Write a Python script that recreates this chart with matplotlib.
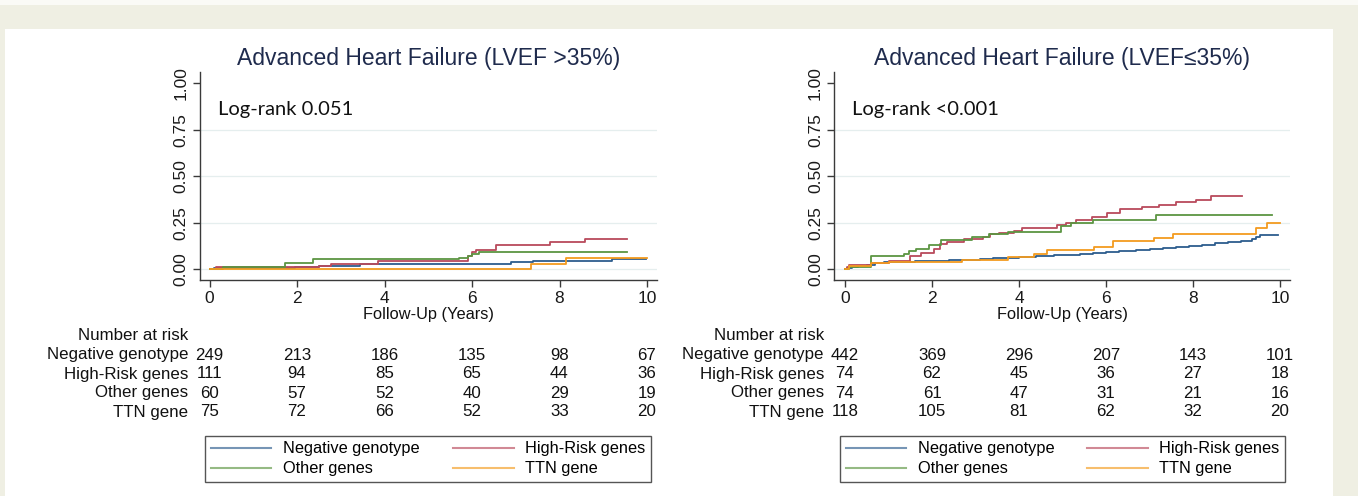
import matplotlib
matplotlib.use("Agg")
import matplotlib.pyplot as plt
from matplotlib.lines import Line2D
from matplotlib.patches import Rectangle

# colours (Stata-like)
BLUE = '#2d5d8e'
RED = '#b94a5c'
GREEN = '#5c9542'
ORANGE = '#f39b1f'
NAVY = '#1f2b4d'

groups = ['Negative genotype', 'High-Risk genes', 'Other genes', 'TTN gene']
risk_times = [0, 2, 4, 6, 8, 10]

# ---- left panel: LVEF >35% ----
left_title = 'Advanced Heart Failure (LVEF >35%)'
left_logrank = 'Log-rank 0.051'
left_neg_t = [0, 0.1, 1.95, 2.5, 3.45, 6.9, 7.4, 9.2, 9.98]
left_neg_v = [0, 0.005, 0.01, 0.018, 0.027, 0.036, 0.045, 0.054, 0.054]
left_hr_t = [0, 0.15, 2.5, 2.77, 3.85, 5.9, 6.0, 6.1, 6.55, 7.78, 8.58, 9.55]
left_hr_v = [0, 0.009, 0.018, 0.027, 0.045, 0.072, 0.09, 0.10, 0.127, 0.145, 0.161, 0.161]
left_oth_t = [0, 0.3, 1.72, 2.36, 5.71, 5.9, 6.0, 6.15, 9.55]
left_oth_v = [0, 0.012, 0.031, 0.052, 0.062, 0.072, 0.082, 0.093, 0.093]
left_ttn_t = [0, 7.35, 8.15, 10.0]
left_ttn_v = [0, 0.025, 0.057, 0.057]
left_risk = [[249, 213, 186, 135, 98, 67],
             [111, 94, 85, 65, 44, 36],
             [60, 57, 52, 40, 29, 19],
             [75, 72, 66, 52, 33, 20]]

# ---- right panel: LVEF <=35% ----
right_title = 'Advanced Heart Failure (LVEF\u226435%)'
right_logrank = 'Log-rank <0.001'
right_neg_t = [0, 0.05, 0.15, 0.3, 0.5, 0.7, 0.9, 1.2, 1.6, 2.0, 2.4, 2.8, 3.1, 3.4, 3.7, 4.0, 4.4, 4.8,
               5.1, 5.4, 5.7, 6.0, 6.3, 6.7, 7.0, 7.3, 7.6, 7.9, 8.2, 8.5, 8.8, 9.1, 9.35, 9.45, 9.55, 9.95]
right_neg_v = [0, 0.006, 0.012, 0.018, 0.024, 0.030, 0.036, 0.040, 0.042, 0.045, 0.048, 0.051, 0.054, 0.058,
               0.062, 0.066, 0.070, 0.074, 0.078, 0.083, 0.087, 0.092, 0.096, 0.100, 0.106, 0.112, 0.118,
               0.124, 0.130, 0.138, 0.145, 0.152, 0.160, 0.172, 0.184, 0.184]
right_hr_t = [0, 0.05, 0.1, 0.6, 1.0, 1.5, 1.75, 2.04, 2.19, 2.34, 2.74, 3.18, 3.33, 3.53, 3.88, 4.08,
              4.88, 5.07, 5.32, 5.67, 6.02, 6.32, 6.82, 7.21, 7.61, 8.06, 8.41, 9.13]
right_hr_v = [0, 0.01, 0.02, 0.035, 0.045, 0.068, 0.086, 0.11, 0.134, 0.143, 0.16, 0.175, 0.19, 0.196,
              0.207, 0.223, 0.238, 0.25, 0.264, 0.279, 0.30, 0.323, 0.332, 0.345, 0.362, 0.371, 0.393, 0.393]
right_oth_t = [0, 0.1, 0.59, 1.36, 1.47, 1.63, 1.94, 2.2, 2.93, 3.32, 3.74, 4.97, 5.2, 5.7, 7.16, 9.81]
right_oth_v = [0, 0.01, 0.068, 0.08, 0.095, 0.107, 0.13, 0.157, 0.175, 0.19, 0.20, 0.232, 0.25, 0.264, 0.29, 0.29]
right_ttn_t = [0, 0.1, 0.6, 1.0, 2.7, 3.75, 4.35, 4.65, 5.72, 6.15, 7.1, 7.55, 9.45, 9.7, 10.0]
right_ttn_v = [0, 0.015, 0.03, 0.04, 0.05, 0.065, 0.08, 0.105, 0.12, 0.15, 0.168, 0.19, 0.22, 0.25, 0.25]
right_risk = [[442, 369, 296, 207, 143, 101],
              [74, 62, 45, 36, 27, 18],
              [74, 61, 47, 31, 21, 16],
              [118, 105, 81, 62, 32, 20]]

W, H = 1358, 496
plt.rcParams['font.family'] = ['Liberation Sans', 'DejaVu Sans']
fig = plt.figure(figsize=(W / 100, H / 100), dpi=100, facecolor='#efefe3')

# white page behind the figure + pale strip on top
fig.patches.append(Rectangle((5 / W, 0), (1333 - 5) / W, (H - 29) / H, transform=fig.transFigure,
                             facecolor='white', edgecolor='none', zorder=-2))
fig.patches.append(Rectangle((0, (H - 5) / H), 1, 5 / H, transform=fig.transFigure,
                             facecolor='#fafaf6', edgecolor='none', zorder=-2))


def px(x, y):
    # pixel coords -> figure fraction
    return x / W, 1 - y / H


def panel(x_axis, x0, x10, title, logrank, curves, risk, leg_x0, leg_x1):
    per = (x10 - x0) / 10.0
    ax_left = x_axis
    ax_right = x10 + 10
    ax = fig.add_axes([ax_left / W, 1 - 280 / H, (ax_right - ax_left) / W, (280 - 72) / H])
    ax.set_facecolor('none')
    ax.set_xlim((ax_left - x0) / per, (ax_right - x0) / per)
    ax.set_ylim(-0.059, 1.06)
    for s in ['top', 'right']:
        ax.spines[s].set_visible(False)
    for s in ['left', 'bottom']:
        ax.spines[s].set_color('#3a3a3a')
        ax.spines[s].set_linewidth(1.0)
    ax.set_yticks([0, 0.25, 0.5, 0.75, 1.0])
    ax.set_yticklabels(['0.00', '0.25', '0.50', '0.75', '1.00'], rotation=90, va='center', fontsize=12.5)
    ax.set_xticks(risk_times)
    ax.tick_params(axis='both', direction='out', length=5, width=1, color='#3a3a3a',
                   labelcolor='#1a1a1a', labelsize=12.5)
    ax.tick_params(axis='x', pad=3)
    ax.tick_params(axis='y', pad=3)
    for g in [0, 0.25, 0.5, 0.75]:
        ax.axhline(g, color='#e5eeee', lw=0.9, zorder=0)

    for (t, v), c in zip(curves, [BLUE, RED, GREEN, ORANGE]):
        ax.step(t, v, where='post', color=c, lw=1.3, zorder=3)

    ax.text(*px(ax_left + 18, 110), logrank, transform=fig.transFigure, family='Lato',
            fontsize=14.5, va='center', ha='left', color='#111111')
    fig.text(*px(x0 + 5 * per, 58), title, ha='center', va='center', fontsize=16.5, color=NAVY)
    fig.text(*px(x0 + 5 * per, 315), 'Follow-Up (Years)', ha='center', va='center',
             fontsize=11.8, color='#111111')

    # number at risk table
    lab_x = x0 - 21
    fig.text(*px(lab_x, 335), 'Number at risk', ha='right', va='center', fontsize=12.2, color='#111111')
    row_y = [355, 374, 393, 412]
    for name, counts, y in zip(groups, risk, row_y):
        fig.text(*px(lab_x, y), name, ha='right', va='center', fontsize=12.2, color='#111111')
        for tt, n in zip(risk_times, counts):
            fig.text(*px(x0 + tt * per, y), str(n), ha='center', va='center', fontsize=12.2,
                     color='#111111')

    # legend
    handles = [Line2D([], [], color=c, lw=1.5, alpha=0.65) for c in [BLUE, GREEN, RED, ORANGE]]
    labels = [groups[0], groups[2], groups[1], groups[3]]
    l0, b0 = px(leg_x0, 482)
    l1, b1 = px(leg_x1, 428)
    leg = ax.legend(handles, labels, ncol=2, loc='lower left',
                    bbox_to_anchor=(l0, b0, l1 - l0, b1 - b0), bbox_transform=fig.transFigure,
                    mode='expand', borderaxespad=0, fontsize=11.8, handlelength=3.7,
                    handletextpad=0.7, labelspacing=0.3, borderpad=0.35, columnspacing=1.5,
                    fancybox=False, framealpha=1, edgecolor='#555555')
    leg.get_frame().set_linewidth(1.0)
    return ax


panel(199.5, 209.5, 647, left_title, left_logrank,
      [(left_neg_t, left_neg_v), (left_hr_t, left_hr_v), (left_oth_t, left_oth_v), (left_ttn_t, left_ttn_v)],
      left_risk, 205, 651)
panel(834, 845, 1280, right_title, right_logrank,
      [(right_neg_t, right_neg_v), (right_hr_t, right_hr_v), (right_oth_t, right_oth_v),
       (right_ttn_t, right_ttn_v)],
      right_risk, 840, 1285)

fig.savefig('out.png', dpi=100, facecolor=fig.get_facecolor())
